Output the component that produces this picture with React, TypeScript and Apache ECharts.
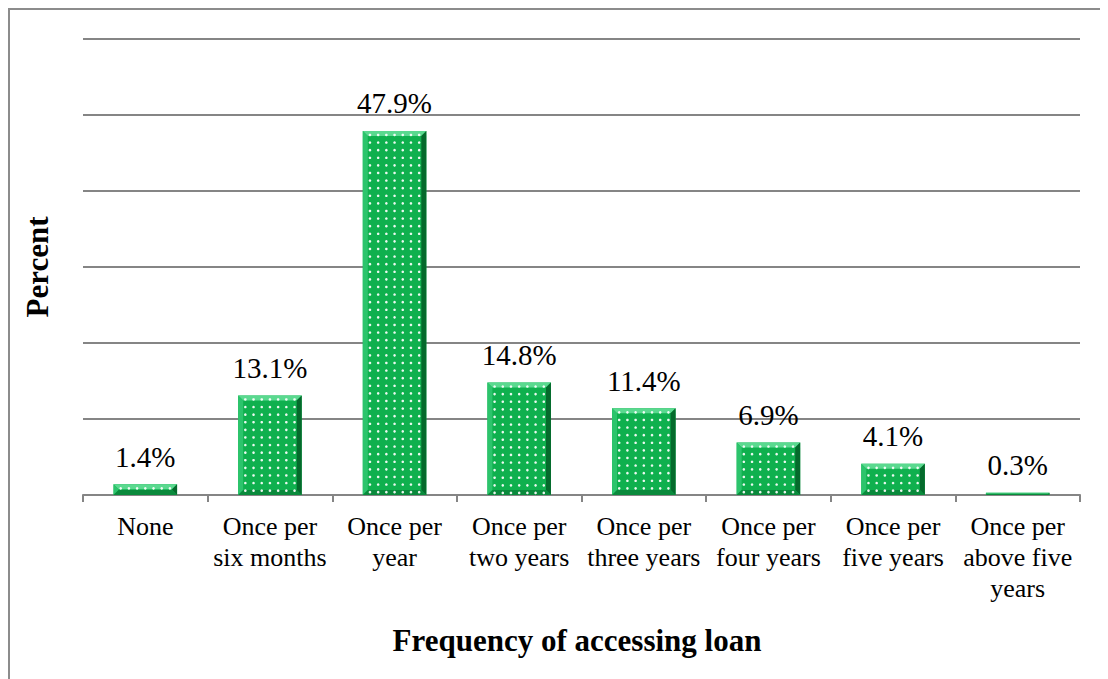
import { useEffect, useRef } from "react";
import * as echarts from "echarts";

// Frequency of accessing loan (share of respondents, %)
const categories = [
  "None",
  "Once per\nsix months",
  "Once per\nyear",
  "Once per\ntwo years",
  "Once per\nthree years",
  "Once per\nfour years",
  "Once per\nfive years",
  "Once per\nabove five\nyears",
];
const percents = [1.4, 13.1, 47.9, 14.8, 11.4, 6.9, 4.1, 0.3];

const Y_MIN = 0;
const Y_MAX = 60;
const Y_STEP = 10;

const xTitle = "Frequency of accessing loan";
const yTitle = "Percent";

const FONT = "Liberation Serif";
const GREEN = "#0fb04e";
const GREEN_LIGHT = "#5ad98f";
const GREEN_MID = "#2cc46c";
const GREEN_DARK = "#056a2c";
const GRID_GREY = "#858585";
const BAR_RATIO = 0.51;

export default function App() {
  const ref = useRef<HTMLDivElement>(null);

  useEffect(() => {
    if (!ref.current) return;
    const chart = echarts.init(ref.current, undefined, { renderer: "svg" });

    // Bevelled edges and white dot pattern laid over each bar
    const bevelAndDots = (_params: any, api: any) => {
      const idx = api.value(0);
      const v = api.value(1);
      const top = api.coord([idx, v]);
      const base = api.coord([idx, 0]);
      const w = api.size([1, 0])[0] * BAR_RATIO;
      const x = top[0] - w / 2;
      const y = top[1];
      const h = base[1] - top[1];
      const b = Math.max(0, Math.min(5, h / 2, w / 2));
      const children: any[] = [
        {
          type: "polygon",
          shape: { points: [[x, y], [x + w, y], [x + w - b, y + b], [x + b, y + b]] },
          style: { fill: GREEN_LIGHT },
        },
        {
          type: "polygon",
          shape: { points: [[x, y], [x + b, y + b], [x + b, y + h - b], [x, y + h]] },
          style: { fill: GREEN_MID },
        },
        {
          type: "polygon",
          shape: { points: [[x + w, y], [x + w, y + h], [x + w - b, y + h - b], [x + w - b, y + b]] },
          style: { fill: GREEN_DARK },
        },
        {
          type: "polygon",
          shape: { points: [[x, y + h], [x + w, y + h], [x + w - b, y + h - b], [x + b, y + h - b]] },
          style: { fill: "#0a8a3c" },
        },
      ];
      const stepX = 8.2;
      const stepY = 7.6;
      const cols = Math.floor((w - 4) / stepX);
      const startX = x + (w - (cols - 1) * stepX) / 2;
      for (let yy = y + 4; yy < y + h - 1; yy += stepY) {
        for (let c = 0; c < cols; c++) {
          children.push({
            type: "circle",
            shape: { cx: startX + c * stepX, cy: yy, r: 1.3 },
            style: { fill: "rgba(255,255,255,0.92)" },
          });
        }
      }
      return { type: "group", children };
    };

    chart.setOption({
      animation: false,
      textStyle: { fontFamily: FONT },
      grid: { left: 75, right: 36, top: 31, bottom: 193, containLabel: false },
      xAxis: {
        type: "category",
        data: categories,
        boundaryGap: true,
        axisLine: { show: true, lineStyle: { color: GRID_GREY, width: 2 } },
        axisTick: { show: true, alignWithLabel: false, length: 7, lineStyle: { color: GRID_GREY, width: 2 } },
        axisLabel: {
          interval: 0,
          margin: 16,
          color: "#000",
          fontFamily: FONT,
          fontSize: 26,
          lineHeight: 31,
        },
      },
      yAxis: {
        type: "value",
        min: Y_MIN,
        max: Y_MAX,
        interval: Y_STEP,
        axisLine: { show: false },
        axisTick: { show: false },
        axisLabel: { show: false },
        splitLine: { show: true, lineStyle: { color: GRID_GREY, width: 2 } },
      },
      series: [
        {
          type: "bar",
          data: percents,
          barWidth: `${BAR_RATIO * 100}%`,
          itemStyle: { color: GREEN },
          label: {
            show: true,
            position: "top",
            distance: 13,
            color: "#000",
            fontFamily: FONT,
            fontSize: 29,
            formatter: (p: any) => `${Number(p.value).toFixed(1)}%`,
          },
          z: 2,
        },
        {
          type: "custom",
          data: percents.map((v, i) => [i, v]),
          encode: { x: 0, y: 1 },
          renderItem: bevelAndDots,
          silent: true,
          z: 3,
        },
      ],
      graphic: [
        {
          type: "rect",
          shape: { x: 1, y: 1, width: 1300, height: 900 },
          style: { fill: "none", stroke: "#8c8c8c", lineWidth: 2 },
          z: 10,
        },
        {
          type: "text",
          x: 569,
          y: 632,
          style: {
            text: xTitle,
            fontFamily: FONT,
            fontSize: 31,
            fontWeight: "bold",
            fill: "#000",
            align: "center",
            verticalAlign: "middle",
          },
        },
        {
          type: "text",
          x: 29,
          y: 259,
          rotation: Math.PI / 2,
          style: {
            text: yTitle,
            fontFamily: FONT,
            fontSize: 31,
            fontWeight: "bold",
            fill: "#000",
            align: "center",
            verticalAlign: "middle",
          },
        },
      ],
    });

    return () => chart.dispose();
  }, []);

  return <div ref={ref} style={{ width: 1108, height: 680 }} />;
}
